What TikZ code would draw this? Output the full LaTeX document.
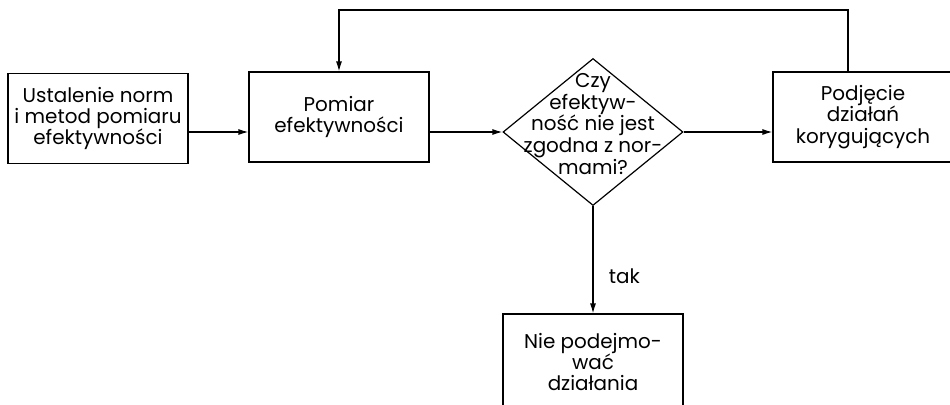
\documentclass[tikz,border=0pt]{standalone}
\usepackage{fontspec}
\setmainfont{Poppins}
\usetikzlibrary{arrows.meta,shapes.geometric}
\begin{document}
\begin{tikzpicture}[x=1bp,y=-1bp,line width=1.2bp,
    blok/.style={draw,rectangle,minimum width=180bp,minimum height=90bp,align=center,inner sep=0pt,font=\fontsize{20}{21.5}\selectfont},
    decyzja/.style={draw,diamond,minimum width=180bp,minimum height=147bp,inner sep=0pt},
    strzalka/.style={-{Latex[length=10bp,width=6bp]}}]
    \useasboundingbox (0,0) rectangle (950,404);
    % Boxes
    \node[blok] (normy) at (98,118.5) {Ustalenie norm\\i metod pomiaru\\efektywności};
    \node[blok] (pomiar) at (339,117) {Pomiar\\efektywności};
    \node[blok] (korekta) at (863,117) {Podjęcie\\działań\\korygujących};
    \node[blok,minimum height=96bp] (brak) at (593,362) {Nie podejmo-\\wać\\działania};
    % Decision
    \node[decyzja] (pytanie) at (593,132) {};
    \node[align=center,inner sep=0pt,font=\fontsize{20}{21.7}\selectfont] (pytanietxt) at (593,124) {Czy\\efektyw-\\ność nie jest\\zgodna z nor-\\mami?};
    % Arrows
    \draw[strzalka] (normy.east |- pytanie.west) -- (pomiar.west |- pytanie.west);
    \draw[strzalka] (pomiar.east |- pytanie.west) -- (pytanie.west);
    \draw[strzalka] (pytanie.east) -- (korekta.west |- pytanie.east);
    \draw[strzalka] (pytanie.south) -- (brak.north) node[pos=0.65,right=12bp,font=\fontsize{20}{21}\selectfont] (tak) {tak};
    % Feedback loop
    \coordinate (petla) at (848,10);
    \draw[strzalka] (korekta.north -| petla) -- (petla) -- (petla -| pomiar.north) -- (pomiar.north);
\end{tikzpicture}
\end{document}
